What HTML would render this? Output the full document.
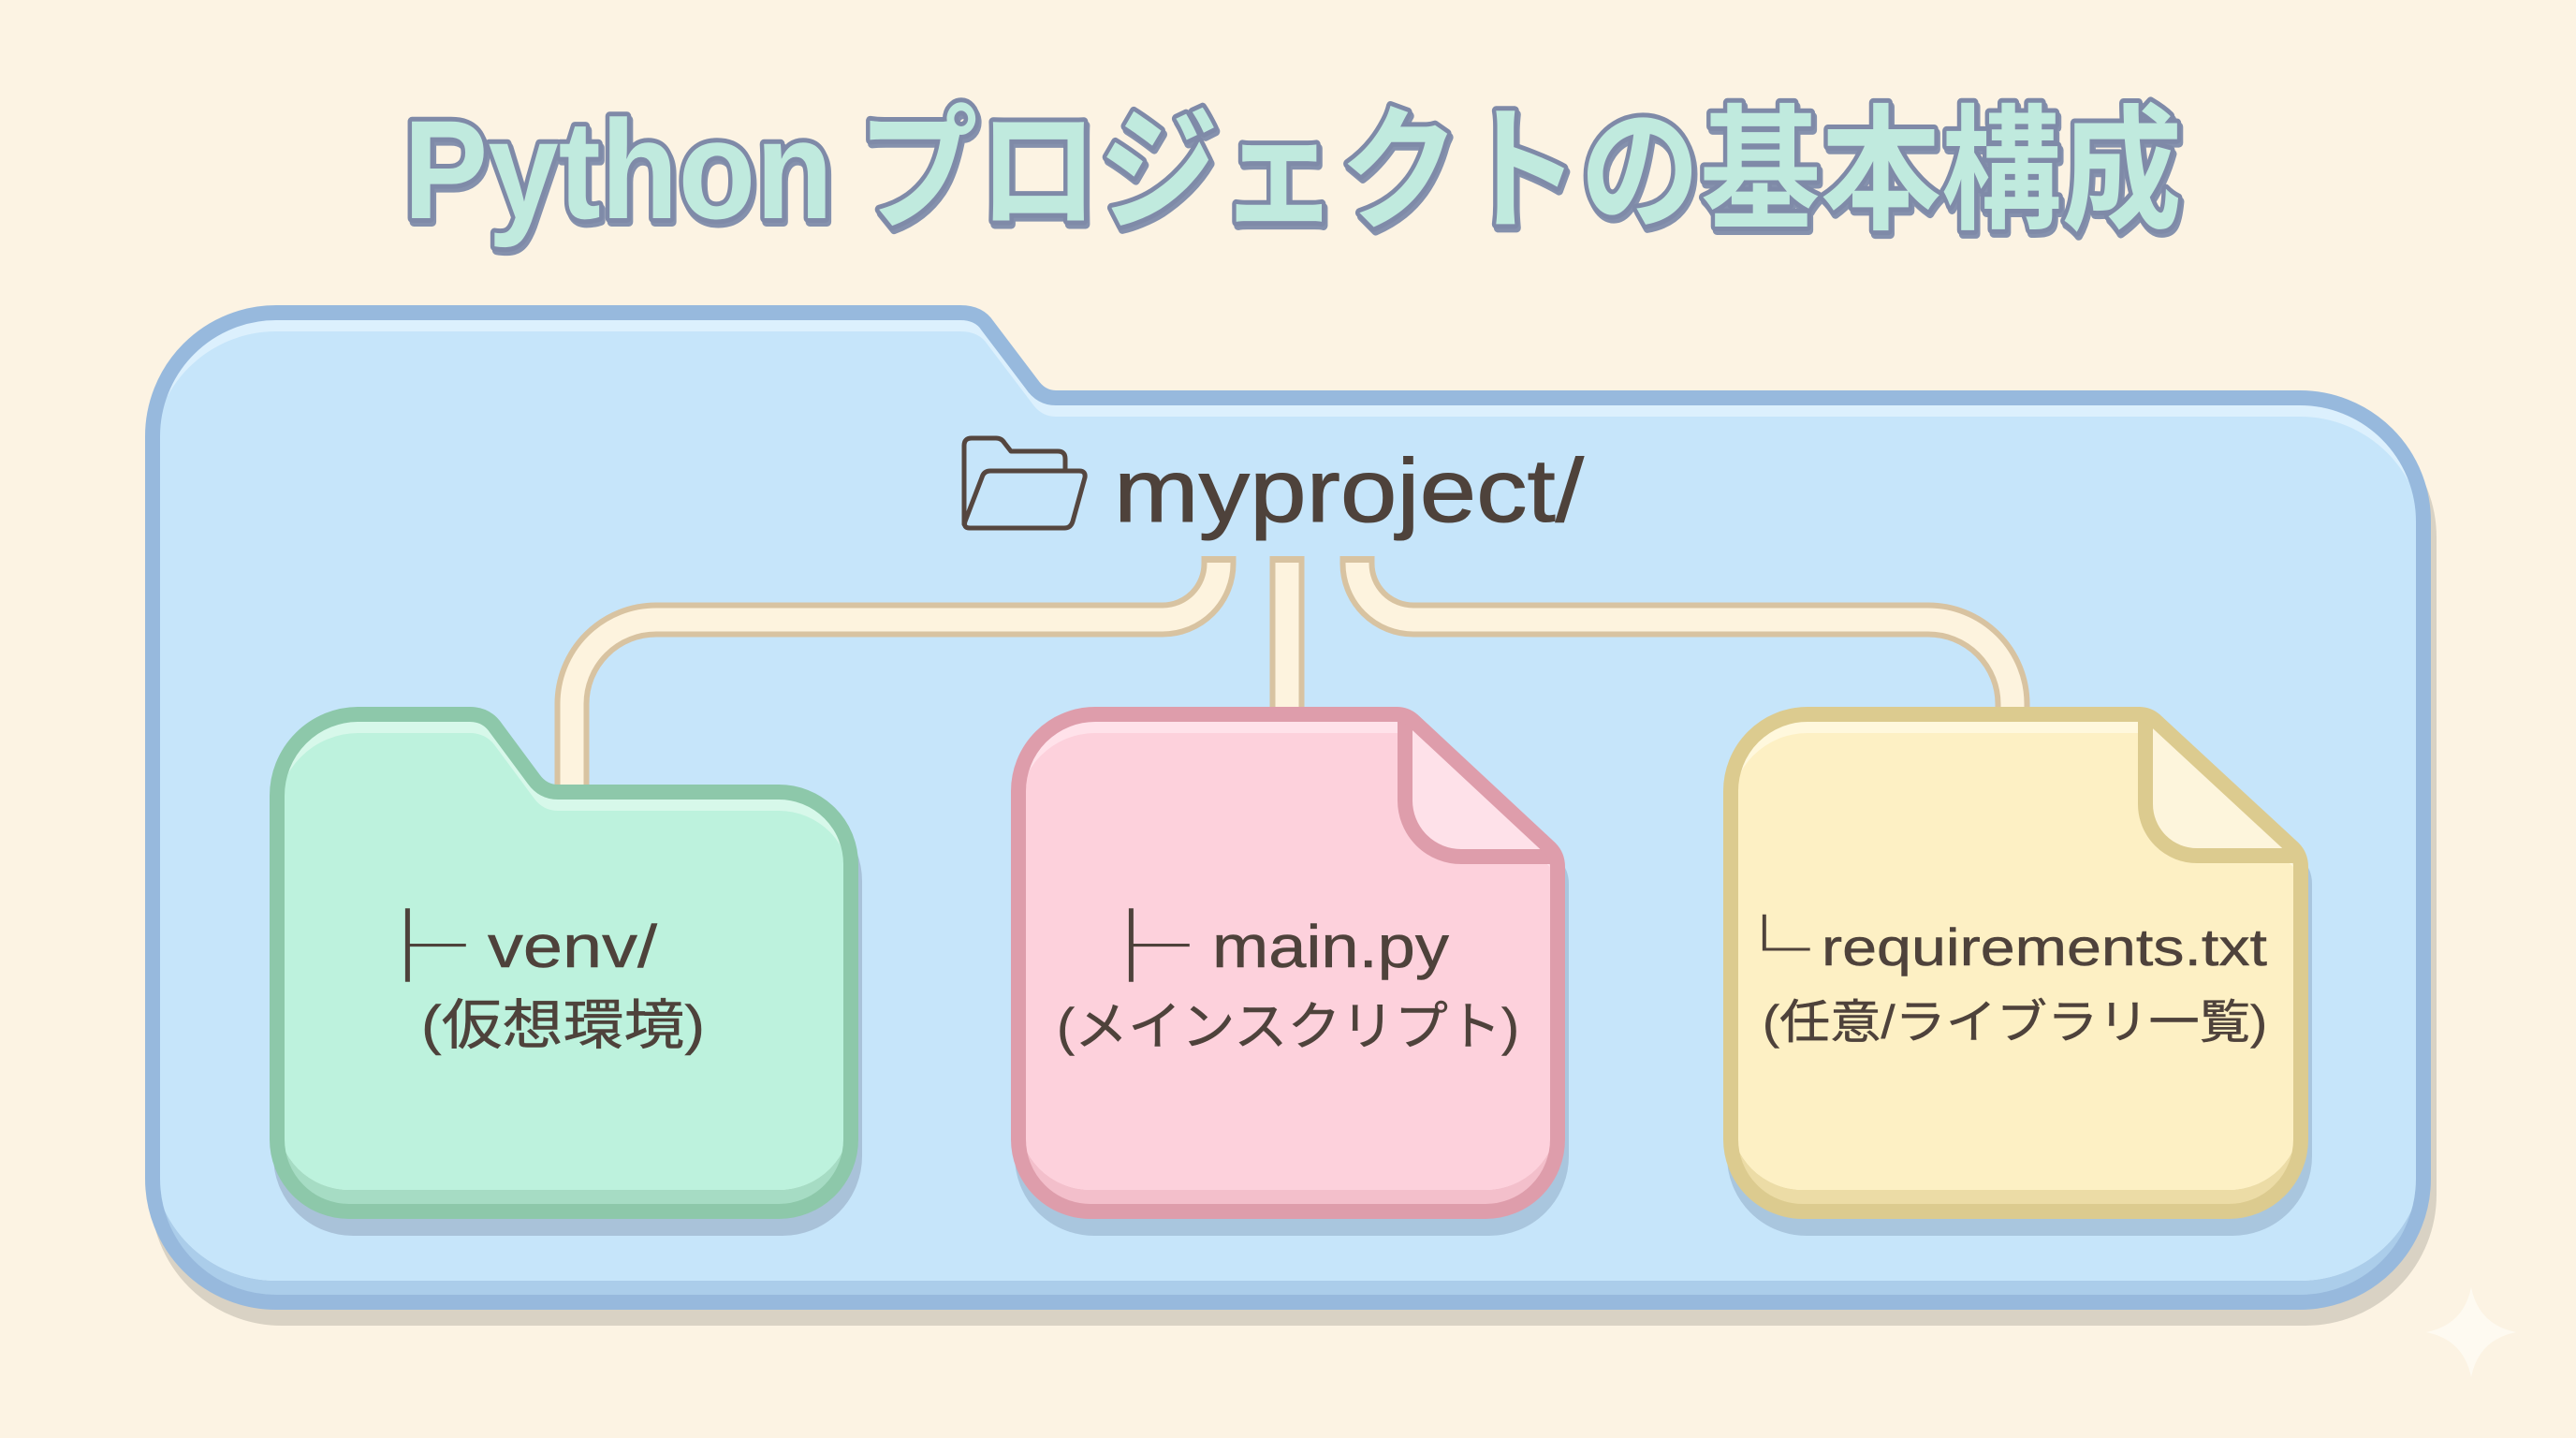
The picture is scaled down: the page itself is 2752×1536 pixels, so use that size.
<!DOCTYPE html>
<html><head><meta charset="utf-8"><style>
html,body{margin:0;padding:0;background:#fcf3e3;}
svg{display:block;}
</style></head><body>
<svg width="2752" height="1536" viewBox="0 0 2752 1536" xmlns="http://www.w3.org/2000/svg">
<defs>
<path id="po" d="M163,466 A132,132 0 0 1 295,334 L1026,334 Q1046,334 1055,348 L1102,410 Q1112,425 1128,425 L2457,425 A132,132 0 0 1 2589,557 L2589,1259 A132,132 0 0 1 2457,1391 L295,1391 A132,132 0 0 1 163,1259 Z"/>
<path id="pg" d="M296,850 A87,87 0 0 1 383,763 L502,763 Q520,763 530,778 L570,832 Q580,846 596,846 L832,846 A77,77 0 0 1 909,923 L909,1217 A77,77 0 0 1 832,1294 L373,1294 A77,77 0 0 1 296,1217 Z"/>
<path id="pp" d="M1088,845 A82,82 0 0 1 1170,763 L1492,763 Q1503,763 1511,771 L1656,906 Q1664,914 1664,926 L1664,1217 A77,77 0 0 1 1587,1294 L1165,1294 A77,77 0 0 1 1088,1217 Z"/>
<path id="py" d="M1849,845 A82,82 0 0 1 1931,763 L2285,763 Q2296,763 2304,771 L2450,906 Q2458,914 2458,926 L2458,1217 A77,77 0 0 1 2381,1294 L1926,1294 A77,77 0 0 1 1849,1217 Z"/>
<clipPath id="co"><use href="#po"/></clipPath>
<clipPath id="co2"><use href="#po" transform="translate(0,-23)"/></clipPath>
<clipPath id="cg"><use href="#pg"/></clipPath>
<clipPath id="cg2"><use href="#pg" transform="translate(0,-23)"/></clipPath>
<clipPath id="cp"><use href="#pp"/></clipPath>
<clipPath id="cp2"><use href="#pp" transform="translate(0,-23)"/></clipPath>
<clipPath id="cy"><use href="#py"/></clipPath>
<clipPath id="cy2"><use href="#py" transform="translate(0,-23)"/></clipPath>
</defs>

<rect x="0" y="0" width="2752" height="1536" fill="#fcf3e3"/>

<!-- Title -->
<g font-family="'Liberation Sans','Noto Sans CJK JP',sans-serif" font-weight="700" stroke-linejoin="round">
  <text x="433" y="237" font-size="150" textLength="459" lengthAdjust="spacingAndGlyphs" fill="#8591ad" stroke="#8591ad" stroke-width="10">Python</text>
  <text x="918" y="237" font-size="145" textLength="1415" lengthAdjust="spacingAndGlyphs" fill="#8591ad" stroke="#8591ad" stroke-width="10" font-family="'Noto Sans CJK JP',sans-serif">プロジェクトの基本構成</text>
  <text x="431" y="233" font-size="150" textLength="459" lengthAdjust="spacingAndGlyphs" fill="#c0eade" stroke="#7f8aa8" stroke-width="10" paint-order="stroke">Python</text>
  <text x="916" y="233" font-size="145" textLength="1415" lengthAdjust="spacingAndGlyphs" fill="#c0eade" stroke="#7f8aa8" stroke-width="10" paint-order="stroke" font-family="'Noto Sans CJK JP',sans-serif">プロジェクトの基本構成</text>
</g>

<!-- Outer folder -->
<use href="#po" transform="translate(6,17)" fill="#d9d2c4" stroke="#d9d2c4" stroke-width="16"/>
<g clip-path="url(#co)">
  <use href="#po" fill="#abcdea"/>
  <g clip-path="url(#co2)">
    <use href="#po" fill="#dcf0fd"/>
    <use href="#po" transform="translate(0,20)" fill="#c6e5fa"/>
  </g>
</g>
<use href="#po" fill="none" stroke="#97b9dd" stroke-width="16"/>

<!-- Folder icon -->
<g fill="none" stroke="#55463f" stroke-width="5" stroke-linejoin="round" stroke-linecap="round">
  <path d="M1030,560 L1030,476 Q1030,468 1038,468 L1064,468 Q1070,468 1073,473 L1080,482 L1130,482 Q1138,482 1138,490 L1138,502"/>
  <path d="M1058,503 L1153,503 Q1160,503 1159,510 L1146,557 Q1144,564 1137,564 L1036,564 Q1029,564 1031,557 L1049,510 Q1051,503 1058,503 Z"/>
</g>
<text x="1190" y="557" font-size="96" textLength="502" lengthAdjust="spacingAndGlyphs" fill="#4e423b" stroke="#4e423b" stroke-width="1" font-family="'Liberation Sans',sans-serif">myproject/</text>

<!-- Connectors -->
<g fill="none" stroke-linejoin="round">
  <path d="M1302,594 L1302,602 A60,60 0 0 1 1242,662 L701,662 A90,90 0 0 0 611,752 L611,870" stroke="#d8c3a1" stroke-width="37"/>
  <path d="M1375,594 L1375,780" stroke="#d8c3a1" stroke-width="37"/>
  <path d="M1450,594 L1450,602 A60,60 0 0 0 1510,662 L2060,662 A90,90 0 0 1 2150,752 L2150,780" stroke="#d8c3a1" stroke-width="37"/>
  <path d="M1302,601 L1302,602 A60,60 0 0 1 1242,662 L701,662 A90,90 0 0 0 611,752 L611,870" stroke="#fdf3de" stroke-width="25"/>
  <path d="M1375,601 L1375,780" stroke="#fdf3de" stroke-width="25"/>
  <path d="M1450,601 L1450,602 A60,60 0 0 0 1510,662 L2060,662 A90,90 0 0 1 2150,752 L2150,780" stroke="#fdf3de" stroke-width="25"/>
</g>

<!-- Green folder card -->
<use href="#pg" transform="translate(4,18)" fill="#a9c2d9" stroke="#a9c2d9" stroke-width="16"/>
<g clip-path="url(#cg)">
  <use href="#pg" fill="#a6dcc4"/>
  <g clip-path="url(#cg2)">
    <use href="#pg" fill="#d7f8ea"/>
    <use href="#pg" transform="translate(0,20)" fill="#bdf2dd"/>
  </g>
</g>
<use href="#pg" fill="none" stroke="#8dc8aa" stroke-width="16"/>

<!-- Pink file card -->
<use href="#pp" transform="translate(4,18)" fill="#a9c6de" stroke="#a9c6de" stroke-width="16"/>
<g clip-path="url(#cp)">
  <use href="#pp" fill="#f3bfcb"/>
  <g clip-path="url(#cp2)">
    <use href="#pp" fill="#ffe2ea"/>
    <use href="#pp" transform="translate(0,20)" fill="#fdd1dc"/>
  </g>
</g>
<path d="M1496,763 L1501,855 A60,60 0 0 0 1561,915 L1664,920 Z" fill="#fee1e9"/>
<path d="M1501,768 L1501,855 A60,60 0 0 0 1561,915 L1664,915" fill="none" stroke="#de9dab" stroke-width="16" stroke-linejoin="round"/>
<use href="#pp" fill="none" stroke="#de9dab" stroke-width="16"/>

<!-- Yellow file card -->
<use href="#py" transform="translate(4,18)" fill="#a9c6de" stroke="#a9c6de" stroke-width="16"/>
<g clip-path="url(#cy)">
  <use href="#py" fill="#ecdca6"/>
  <g clip-path="url(#cy2)">
    <use href="#py" fill="#fff8dd"/>
    <use href="#py" transform="translate(0,20)" fill="#fdf0c4"/>
  </g>
</g>
<path d="M2288,763 L2292,855 A55,55 0 0 0 2347,914 L2458,919 Z" fill="#fdf5dc"/>
<path d="M2292,768 L2292,859 A55,55 0 0 0 2347,914 L2458,914" fill="none" stroke="#dccb8f" stroke-width="16" stroke-linejoin="round"/>
<use href="#py" fill="none" stroke="#dccb8f" stroke-width="16"/>

<!-- Card texts -->
<g fill="#4e423b">
  <text transform="translate(373,1039) scale(1.6,1)" font-size="78" font-family="'Noto Sans CJK JP',sans-serif">├</text>
  <text x="521" y="1033" font-size="64" textLength="181" lengthAdjust="spacingAndGlyphs" stroke="#4e423b" stroke-width="0.5" font-family="'Liberation Sans',sans-serif">venv/</text>
  <text x="450" y="1115" font-size="58" textLength="303" lengthAdjust="spacingAndGlyphs" stroke="#4e423b" stroke-width="0.5" font-family="'Liberation Sans','Noto Sans CJK JP',sans-serif">(仮想環境)</text>

  <text transform="translate(1146,1039) scale(1.6,1)" font-size="78" font-family="'Noto Sans CJK JP',sans-serif">├</text>
  <text x="1295" y="1033" font-size="64" textLength="253" lengthAdjust="spacingAndGlyphs" stroke="#4e423b" stroke-width="0.5" font-family="'Liberation Sans',sans-serif">main.py</text>
  <text x="1129" y="1116" font-size="56" textLength="494" lengthAdjust="spacingAndGlyphs" stroke="#4e423b" stroke-width="0.5" font-family="'Liberation Sans','Noto Sans CJK JP',sans-serif">(メインスクリプト)</text>

  <text transform="translate(1836,1042) scale(1.32,1)" font-size="74" font-family="'Noto Sans CJK JP',sans-serif">└</text>
  <text x="1946" y="1031" font-size="56" textLength="476" lengthAdjust="spacingAndGlyphs" stroke="#4e423b" stroke-width="0.5" font-family="'Liberation Sans',sans-serif">requirements.txt</text>
  <text x="1883" y="1109" font-size="50" textLength="539" lengthAdjust="spacingAndGlyphs" stroke="#4e423b" stroke-width="0.5" font-family="'Liberation Sans','Noto Sans CJK JP',sans-serif">(任意/ライブラリ一覧)</text>
</g>

<!-- Sparkle -->
<path d="M2640,1375 Q2648,1415 2688,1423 Q2648,1431 2640,1471 Q2632,1431 2592,1423 Q2632,1415 2640,1375 Z" fill="#fefaf1"/>
</svg>
</body></html>
